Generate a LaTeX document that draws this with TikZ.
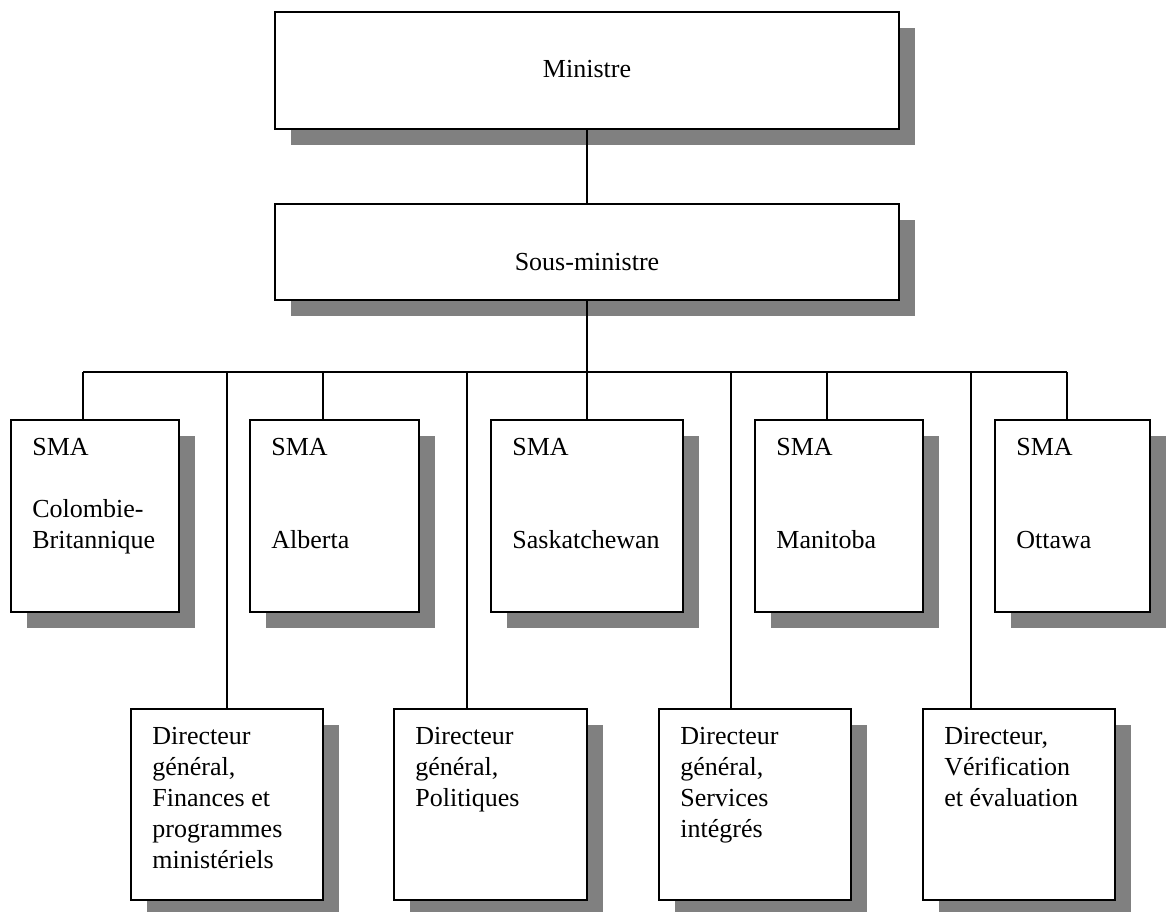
\documentclass[tikz,border=0pt]{standalone}
\usepackage{fontspec}
\setmainfont{Liberation Serif}
\usetikzlibrary{shadows}
\definecolor{shadowgray}{RGB}{128,128,128}
\newcommand{\boxfont}{\fontsize{13pt}{15.5pt}\selectfont}

\begin{document}
\begin{tikzpicture}[
    x=0.5pt, y=-0.5pt,
    box/.style={rectangle, draw, line width=1pt, fill=white, anchor=north west, inner sep=0pt, outer sep=0pt, font=\boxfont,
        drop shadow={shadow xshift=8pt, shadow yshift=-8pt, fill=shadowgray, opacity=1}},
    smabox/.style={box, minimum height=96pt},
    dirbox/.style={box, minimum width=96pt, minimum height=95.5pt},
    toptext/.style={anchor=north west, align=left, inner sep=0pt, xshift=10.5pt, yshift=-9pt, font=\boxfont},
    midtext/.style={anchor=center, inner sep=0pt, font=\boxfont},
    link/.style={line width=0.8pt}
]
\useasboundingbox (0,0) rectangle (1167,911);

% Top of the chart
\node[box, minimum width=312pt, minimum height=58.5pt,
      label={[midtext, yshift=0.5pt]center:Ministre}] (ministre) at (275,12) {};
\node[box, minimum width=312pt, minimum height=48pt,
      label={[midtext, yshift=-5pt]center:Sous-ministre}] (sousmin) at (275,204) {};

% SMA row
\node[smabox, minimum width=84pt, label={[toptext]north west:{SMA\\[15.5pt]Colombie-\\Britannique}}] (sma1) at (11,420) {};
\node[smabox, minimum width=84.5pt, label={[toptext]north west:{SMA\\[31pt]Alberta}}] (sma2) at (250,420) {};
\node[smabox, minimum width=96pt, label={[toptext]north west:{SMA\\[31pt]Saskatchewan}}] (sma3) at (491,420) {};
\node[smabox, minimum width=84pt, label={[toptext]north west:{SMA\\[31pt]Manitoba}}] (sma4) at (755,420) {};
\node[smabox, minimum width=77.5pt, label={[toptext]north west:{SMA\\[31pt]Ottawa}}] (sma5) at (995,420) {};

% Director row
\node[dirbox, label={[toptext]north west:{Directeur\\général,\\Finances et\\programmes\\ministériels}}] (dir1) at (131,709) {};
\node[dirbox, minimum width=96.5pt, label={[toptext]north west:{Directeur\\général,\\Politiques}}] (dir2) at (394,709) {};
\node[dirbox, label={[toptext]north west:{Directeur\\général,\\Services\\intégrés}}] (dir3) at (659,709) {};
\node[dirbox, label={[toptext]north west:{Directeur,\\Vérification\\et évaluation}}] (dir4) at (923,709) {};

% Links
\draw[link] (ministre.south) -- (sousmin.north);
\foreach \n/\x in {sma1/83, sma2/323, sma3/587, sma4/827, sma5/1067, dir1/227, dir2/467, dir3/731, dir4/971} {
    \coordinate (tap \n) at (\x,372);
    \draw[link] (tap \n) -- (tap \n |- \n.north);
}
\draw[link] (tap sma1) -- (tap sma5);
\draw[link] (sousmin.south) -- (tap sma3);

\end{tikzpicture}
\end{document}
